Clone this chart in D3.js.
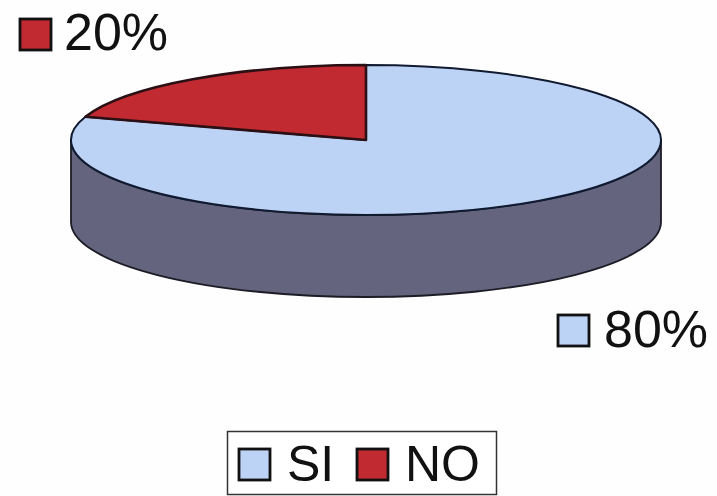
<!DOCTYPE html>
<html>
<head>
    <meta charset="utf-8">
    <style> body { margin: 0; background: #fefefe; } svg { display: block; filter: blur(0.5px); } </style>
    <script src="https://d3js.org/d3.v7.min.js"></script>
</head>
<body>
    <div id="chart"></div>
    <script>

        var categories = ["SI", "NO"];
        var values = [80, 20];
        var colors = ["#bdd3f6", "#c12a30"];

        var W = 717, H = 496;

        var cx = 366, cy = 140,
            rx = 295, ry = 75,
            depth = 82;

        var svg = d3.select("#chart").append("svg")
            .attr("width", W)
            .attr("height", H)
            .style("font-family", "'Liberation Sans', Arial, sans-serif");

        var color = d3.scaleOrdinal().domain(categories).range(colors);

        // side wall of the disc, only the front half can be seen
        svg.append("path")
            .attr("transform", "translate(" + cx + "," + cy + ")")
            .attr("d", "M" + (-rx) + ",0 A" + rx + "," + ry + " 0 0 0 " + rx + ",0"
                + " V" + depth + " A" + rx + "," + ry + " 0 0 1 " + (-rx) + "," + depth + " Z")
            .attr("fill", "#64647e")
            .attr("stroke", "#1c1c26")
            .attr("stroke-width", 1.8)
            .attr("stroke-linejoin", "round");

        // top of the disc: a normal pie squashed into an ellipse
        var pie = d3.pie().sort(null).value(d => d.value);
        var arc = d3.arc().innerRadius(0).outerRadius(rx);

        var slices = categories.map((c, i) => ({ name: c, value: values[i] }));

        svg.append("g")
            .attr("transform", "translate(" + cx + "," + cy + ") scale(1," + (ry / rx) + ")")
            .selectAll("path")
            .data(pie(slices))
            .enter()
            .append("path")
            .attr("d", arc)
            .attr("fill", d => color(d.data.name))
            .attr("stroke", d => d.data.name == "NO" ? "#2a1014" : "#101a30")
            .attr("stroke-width", d => d.data.name == "NO" ? 2.6 : 2)
            .attr("stroke-linejoin", "round")
            .attr("vector-effect", "non-scaling-stroke");

        function addSwatch(path, x, y, name) {
            path.append("rect")
                .attr("x", x)
                .attr("y", y)
                .attr("width", 31)
                .attr("height", 31)
                .attr("fill", color(name))
                .attr("stroke", "#111")
                .attr("stroke-width", 2.8);
        }

        function addText(path, x, y, t, size) {
            path.append("text")
                .attr("x", x)
                .attr("y", y)
                .attr("font-size", size)
                .attr("fill", "#111")
                .text(t);
        }

        // data labels
        svg.call(addSwatch, 20, 19, "NO");
        svg.call(addText, 64, 50, values[1] + "%", 52);
        svg.call(addSwatch, 558, 315, "SI");
        svg.call(addText, 604, 347, values[0] + "%", 52);

        // legend
        svg.append("rect")
            .attr("x", 227.5)
            .attr("y", 431.5)
            .attr("width", 269)
            .attr("height", 63)
            .attr("fill", "#fff")
            .attr("stroke", "#333")
            .attr("stroke-width", 1.5);

        svg.call(addSwatch, 239, 449, categories[0]);
        svg.call(addText, 287, 481, categories[0], 50);
        svg.call(addSwatch, 357, 449, categories[1]);
        svg.call(addText, 405, 481, categories[1], 50);

    </script>
</body>
</html>
